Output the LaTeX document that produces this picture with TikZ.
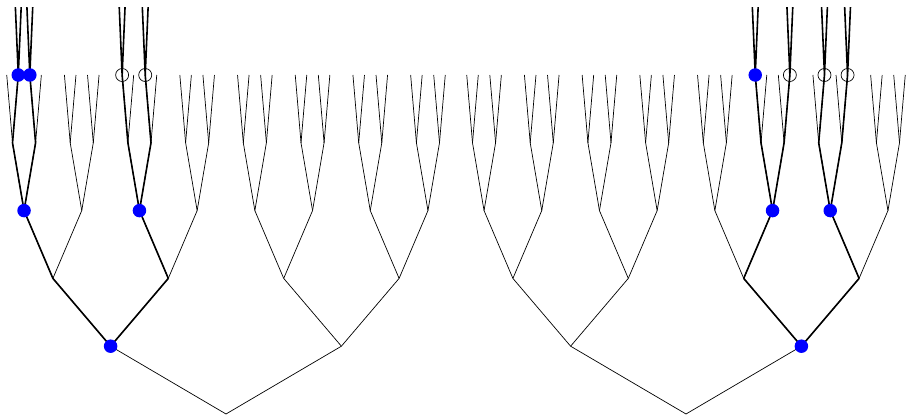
\documentclass[tikz,border=0pt]{standalone}
\begin{document}
\begin{tikzpicture}
        [x=1pt,y=1pt,
        level distance=67.8pt,grow'=up,
        every node/.style={inner sep=0pt,outer sep=0pt,minimum size=0pt},
        edge from parent/.style={draw,line width=0.7pt},
        level 1/.style={sibling distance=230.8pt},
        level 2/.style={sibling distance=115.4pt},
        level 3/.style={sibling distance=57.7pt},
        level 4/.style={sibling distance=23.08pt},
        level 5/.style={sibling distance=11.54pt},
        hot/.style={draw,line width=1.6pt,line join=round},
        bluedot/.style={circle,fill=blue,minimum size=13.5pt},
        ring/.style={circle,draw=black,line width=0.7pt,minimum size=13pt}]
        \useasboundingbox (0,0) rectangle (908,416);
        % two full trees
        \foreach \r/\x in {rootA/226,rootB/686}
          \node (\r) at (\x,2) {}
            child foreach \i in {1,2} {node {}
              child foreach \j in {1,2} {node {}
                child foreach \k in {1,2} {node {}
                  child foreach \l in {1,2} {node {}
                    child foreach \m in {1,2} {node {}}}}}};
        % marked paths
        \draw[hot] (rootA-1-1-1) -- (rootA-1-1) -- (rootA-1) -- (rootA-1-2) -- (rootA-1-2-1);
        \draw[hot] (rootA-1-1-1-1-2) -- (rootA-1-1-1-1) -- (rootA-1-1-1)
          -- (rootA-1-1-1-2) -- (rootA-1-1-1-2-1);
        \draw[hot] (rootA-1-2-1-1-1) -- (rootA-1-2-1-1) -- (rootA-1-2-1)
          -- (rootA-1-2-1-2) -- (rootA-1-2-1-2-1);
        \draw[hot] (rootB-2-1-2) -- (rootB-2-1) -- (rootB-2) -- (rootB-2-2) -- (rootB-2-2-1);
        \draw[hot] (rootB-2-1-2-1-1) -- (rootB-2-1-2-1) -- (rootB-2-1-2)
          -- (rootB-2-1-2-2) -- (rootB-2-1-2-2-2);
        \draw[hot] (rootB-2-2-1-1-2) -- (rootB-2-2-1-1) -- (rootB-2-2-1)
          -- (rootB-2-2-1-2) -- (rootB-2-2-1-2-2);
        % one more level above the marked leaves
        \foreach \n in {rootA-1-1-1-1-2,rootA-1-1-1-2-1,rootA-1-2-1-1-1,rootA-1-2-1-2-1,
                        rootB-2-1-2-1-1,rootB-2-1-2-2-2,rootB-2-2-1-1-2,rootB-2-2-1-2-2}
          \draw[hot] (\n) -- +(-2.9,67.8) coordinate (\n-1)
                     (\n) -- +(2.9,67.8) coordinate (\n-2);
        % marks
        \foreach \n in {rootA-1,rootA-1-1-1,rootA-1-2-1,rootA-1-1-1-1-2,rootA-1-1-1-2-1,
                        rootB-2,rootB-2-1-2,rootB-2-2-1,rootB-2-1-2-1-1}
          \node[bluedot] (m\n) at (\n) {};
        \foreach \n in {rootA-1-2-1-1-1,rootA-1-2-1-2-1,rootB-2-1-2-2-2,rootB-2-2-1-1-2,rootB-2-2-1-2-2}
          \node[ring] (m\n) at (\n) {};
\end{tikzpicture}
\end{document}
